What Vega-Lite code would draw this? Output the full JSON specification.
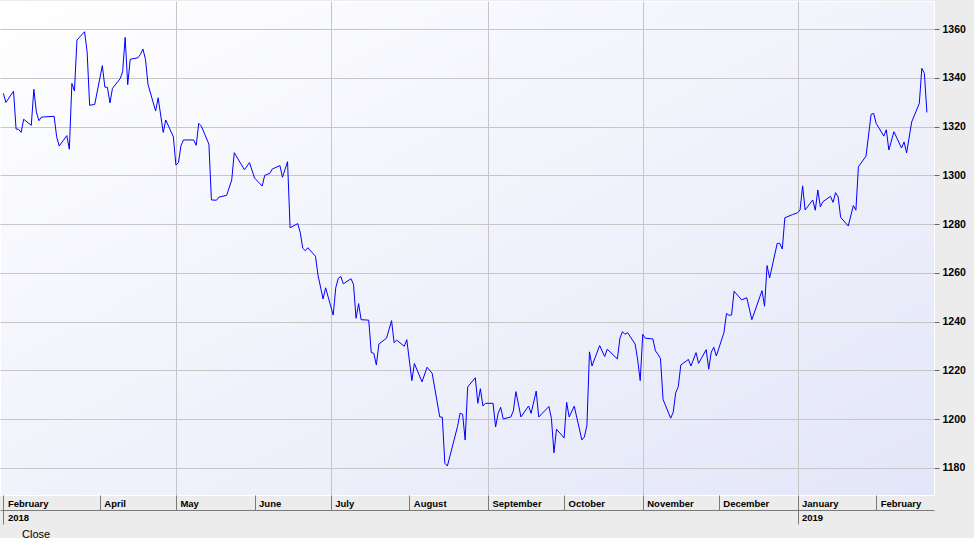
{
  "$schema": "https://vega.github.io/schema/vega-lite/v6.json",
  "width": 934,
  "height": 494,
  "autosize": {"type": "none"},
  "padding": {"left": 0, "top": 1, "right": 40, "bottom": 43},
  "background": "#ECECEC",
  "config": {
    "view": {
      "fill": {"gradient": "linear", "x1": 0, "y1": 0, "x2": 1, "y2": 1, "stops": [{"offset": 0, "color": "#FFFFFF"}, {"offset": 1, "color": "#E3E6F8"}]},
      "stroke": "#FFFFFF",
      "strokeWidth": 1
    },
    "axis": {"labelFont": "Liberation Sans", "labelColor": "#000000", "titleFont": "Liberation Sans"}
  },
  "title": {
    "text": "Close",
    "orient": "bottom",
    "anchor": "start",
    "dx": 22,
    "offset": 4,
    "font": "Liberation Sans",
    "fontSize": 11,
    "fontWeight": "normal",
    "color": "#000000",
    "baseline": "top"
  },
  "data": {
    "values": [
      {"date": "2018-02-22", "close": 1333.6}, {"date": "2018-02-23", "close": 1329.9}, {"date": "2018-02-26", "close": 1334.5}, {"date": "2018-02-27", "close": 1319.0}, {"date": "2018-02-28", "close": 1318.9},
      {"date": "2018-03-01", "close": 1317.6}, {"date": "2018-03-02", "close": 1323.0}, {"date": "2018-03-05", "close": 1320.5}, {"date": "2018-03-06", "close": 1335.3}, {"date": "2018-03-07", "close": 1326.0}, {"date": "2018-03-08", "close": 1322.4}, {"date": "2018-03-09", "close": 1323.9}, {"date": "2018-03-14", "close": 1324.2}, {"date": "2018-03-15", "close": 1315.8}, {"date": "2018-03-16", "close": 1312.0}, {"date": "2018-03-19", "close": 1316.3}, {"date": "2018-03-20", "close": 1310.7}, {"date": "2018-03-21", "close": 1337.7}, {"date": "2018-03-22", "close": 1334.6}, {"date": "2018-03-23", "close": 1355.5}, {"date": "2018-03-26", "close": 1358.9}, {"date": "2018-03-27", "close": 1350.7}, {"date": "2018-03-28", "close": 1328.7}, {"date": "2018-03-30", "close": 1329.1},
      {"date": "2018-04-02", "close": 1345.0}, {"date": "2018-04-03", "close": 1336.2}, {"date": "2018-04-04", "close": 1336.1}, {"date": "2018-04-05", "close": 1329.7}, {"date": "2018-04-06", "close": 1335.7}, {"date": "2018-04-09", "close": 1339.6}, {"date": "2018-04-10", "close": 1342.5}, {"date": "2018-04-11", "close": 1356.6}, {"date": "2018-04-12", "close": 1337.2}, {"date": "2018-04-13", "close": 1347.6}, {"date": "2018-04-16", "close": 1348.2}, {"date": "2018-04-17", "close": 1349.6}, {"date": "2018-04-18", "close": 1351.8}, {"date": "2018-04-19", "close": 1347.6}, {"date": "2018-04-20", "close": 1337.3}, {"date": "2018-04-23", "close": 1326.4}, {"date": "2018-04-24", "close": 1331.8}, {"date": "2018-04-26", "close": 1317.6}, {"date": "2018-04-27", "close": 1322.7}, {"date": "2018-04-30", "close": 1315.8},
      {"date": "2018-05-01", "close": 1304.2}, {"date": "2018-05-02", "close": 1305.2}, {"date": "2018-05-03", "close": 1312.2}, {"date": "2018-05-04", "close": 1314.5}, {"date": "2018-05-08", "close": 1314.5}, {"date": "2018-05-09", "close": 1312.3}, {"date": "2018-05-10", "close": 1321.3}, {"date": "2018-05-11", "close": 1320.2}, {"date": "2018-05-14", "close": 1312.8}, {"date": "2018-05-15", "close": 1289.9}, {"date": "2018-05-17", "close": 1289.8}, {"date": "2018-05-18", "close": 1291.1}, {"date": "2018-05-21", "close": 1291.8}, {"date": "2018-05-23", "close": 1298.1}, {"date": "2018-05-24", "close": 1309.3}, {"date": "2018-05-28", "close": 1302.3}, {"date": "2018-05-30", "close": 1305.2},
      {"date": "2018-06-01", "close": 1298.9}, {"date": "2018-06-04", "close": 1295.6}, {"date": "2018-06-05", "close": 1300.0}, {"date": "2018-06-07", "close": 1300.8}, {"date": "2018-06-08", "close": 1302.6}, {"date": "2018-06-11", "close": 1304.0}, {"date": "2018-06-12", "close": 1299.2}, {"date": "2018-06-14", "close": 1305.6}, {"date": "2018-06-15", "close": 1278.5}, {"date": "2018-06-18", "close": 1280.2}, {"date": "2018-06-19", "close": 1276.6}, {"date": "2018-06-20", "close": 1270.1}, {"date": "2018-06-21", "close": 1269.1}, {"date": "2018-06-22", "close": 1270.3}, {"date": "2018-06-25", "close": 1266.8}, {"date": "2018-06-26", "close": 1259.1}, {"date": "2018-06-28", "close": 1249.3}, {"date": "2018-06-29", "close": 1253.9},
      {"date": "2018-07-02", "close": 1242.7}, {"date": "2018-07-03", "close": 1253.9}, {"date": "2018-07-04", "close": 1257.8}, {"date": "2018-07-05", "close": 1258.5}, {"date": "2018-07-06", "close": 1255.5}, {"date": "2018-07-09", "close": 1257.6}, {"date": "2018-07-10", "close": 1255.3}, {"date": "2018-07-11", "close": 1241.4}, {"date": "2018-07-12", "close": 1247.4}, {"date": "2018-07-13", "close": 1240.8}, {"date": "2018-07-16", "close": 1240.6}, {"date": "2018-07-17", "close": 1227.3}, {"date": "2018-07-18", "close": 1227.0}, {"date": "2018-07-19", "close": 1222.2}, {"date": "2018-07-20", "close": 1230.8}, {"date": "2018-07-23", "close": 1233.2}, {"date": "2018-07-25", "close": 1240.4}, {"date": "2018-07-26", "close": 1231.4}, {"date": "2018-07-27", "close": 1232.4}, {"date": "2018-07-30", "close": 1229.9}, {"date": "2018-07-31", "close": 1232.6},
      {"date": "2018-08-02", "close": 1215.8}, {"date": "2018-08-03", "close": 1222.8}, {"date": "2018-08-06", "close": 1215.3}, {"date": "2018-08-08", "close": 1221.3}, {"date": "2018-08-10", "close": 1218.8}, {"date": "2018-08-13", "close": 1200.9}, {"date": "2018-08-14", "close": 1200.8}, {"date": "2018-08-15", "close": 1181.9}, {"date": "2018-08-16", "close": 1180.8}, {"date": "2018-08-20", "close": 1197.0}, {"date": "2018-08-21", "close": 1202.4}, {"date": "2018-08-22", "close": 1202.0}, {"date": "2018-08-23", "close": 1191.5}, {"date": "2018-08-24", "close": 1213.2}, {"date": "2018-08-27", "close": 1217.0}, {"date": "2018-08-28", "close": 1206.5}, {"date": "2018-08-29", "close": 1212.5}, {"date": "2018-08-30", "close": 1205.4}, {"date": "2018-08-31", "close": 1206.5},
      {"date": "2018-09-03", "close": 1206.5}, {"date": "2018-09-04", "close": 1196.8}, {"date": "2018-09-05", "close": 1202.4}, {"date": "2018-09-06", "close": 1204.9}, {"date": "2018-09-07", "close": 1200.1}, {"date": "2018-09-10", "close": 1200.9}, {"date": "2018-09-11", "close": 1203.4}, {"date": "2018-09-12", "close": 1211.3}, {"date": "2018-09-14", "close": 1200.9}, {"date": "2018-09-17", "close": 1205.4}, {"date": "2018-09-18", "close": 1202.4}, {"date": "2018-09-20", "close": 1211.5}, {"date": "2018-09-21", "close": 1200.9}, {"date": "2018-09-25", "close": 1205.2}, {"date": "2018-09-26", "close": 1200.3}, {"date": "2018-09-27", "close": 1186.2}, {"date": "2018-09-28", "close": 1195.9},
      {"date": "2018-10-01", "close": 1192.3}, {"date": "2018-10-02", "close": 1206.9}, {"date": "2018-10-03", "close": 1200.9}, {"date": "2018-10-05", "close": 1205.3}, {"date": "2018-10-08", "close": 1191.5}, {"date": "2018-10-09", "close": 1192.7}, {"date": "2018-10-10", "close": 1197.5}, {"date": "2018-10-11", "close": 1227.6}, {"date": "2018-10-12", "close": 1221.8}, {"date": "2018-10-15", "close": 1230.2}, {"date": "2018-10-17", "close": 1225.7}, {"date": "2018-10-18", "close": 1228.7}, {"date": "2018-10-22", "close": 1224.7}, {"date": "2018-10-23", "close": 1233.2}, {"date": "2018-10-24", "close": 1235.9}, {"date": "2018-10-25", "close": 1234.8}, {"date": "2018-10-26", "close": 1235.5}, {"date": "2018-10-29", "close": 1230.8}, {"date": "2018-10-30", "close": 1224.3}, {"date": "2018-10-31", "close": 1215.8},
      {"date": "2018-11-01", "close": 1234.8}, {"date": "2018-11-02", "close": 1233.2}, {"date": "2018-11-05", "close": 1232.9}, {"date": "2018-11-06", "close": 1228.0}, {"date": "2018-11-07", "close": 1226.6}, {"date": "2018-11-08", "close": 1224.8}, {"date": "2018-11-09", "close": 1208.1}, {"date": "2018-11-12", "close": 1200.4}, {"date": "2018-11-13", "close": 1202.8}, {"date": "2018-11-14", "close": 1210.9}, {"date": "2018-11-15", "close": 1213.3}, {"date": "2018-11-16", "close": 1222.2}, {"date": "2018-11-19", "close": 1224.5}, {"date": "2018-11-20", "close": 1221.8}, {"date": "2018-11-22", "close": 1227.3}, {"date": "2018-11-23", "close": 1222.9}, {"date": "2018-11-26", "close": 1228.5}, {"date": "2018-11-27", "close": 1220.5}, {"date": "2018-11-28", "close": 1227.5}, {"date": "2018-11-29", "close": 1229.5}, {"date": "2018-11-30", "close": 1225.9},
      {"date": "2018-12-03", "close": 1235.5}, {"date": "2018-12-04", "close": 1243.3}, {"date": "2018-12-05", "close": 1242.6}, {"date": "2018-12-06", "close": 1242.7}, {"date": "2018-12-07", "close": 1252.5}, {"date": "2018-12-10", "close": 1248.9}, {"date": "2018-12-12", "close": 1249.8}, {"date": "2018-12-14", "close": 1240.8}, {"date": "2018-12-18", "close": 1252.7}, {"date": "2018-12-19", "close": 1246.3}, {"date": "2018-12-20", "close": 1263.0}, {"date": "2018-12-21", "close": 1257.9}, {"date": "2018-12-24", "close": 1272.1}, {"date": "2018-12-25", "close": 1272.1}, {"date": "2018-12-26", "close": 1269.8}, {"date": "2018-12-27", "close": 1282.6}, {"date": "2018-12-30", "close": 1283.9},
      {"date": "2019-01-01", "close": 1284.6}, {"date": "2019-01-02", "close": 1285.8}, {"date": "2019-01-03", "close": 1295.7}, {"date": "2019-01-04", "close": 1285.8}, {"date": "2019-01-07", "close": 1289.9}, {"date": "2019-01-08", "close": 1285.7}, {"date": "2019-01-09", "close": 1294.0}, {"date": "2019-01-10", "close": 1287.1}, {"date": "2019-01-11", "close": 1289.2}, {"date": "2019-01-14", "close": 1291.4}, {"date": "2019-01-15", "close": 1288.9}, {"date": "2019-01-16", "close": 1292.9}, {"date": "2019-01-17", "close": 1291.2}, {"date": "2019-01-18", "close": 1282.8}, {"date": "2019-01-21", "close": 1279.2}, {"date": "2019-01-23", "close": 1287.6}, {"date": "2019-01-24", "close": 1285.7}, {"date": "2019-01-25", "close": 1303.5}, {"date": "2019-01-28", "close": 1307.9}, {"date": "2019-01-30", "close": 1325.0}, {"date": "2019-01-31", "close": 1325.4},
      {"date": "2019-02-01", "close": 1321.3}, {"date": "2019-02-04", "close": 1316.1}, {"date": "2019-02-05", "close": 1318.7}, {"date": "2019-02-06", "close": 1310.4}, {"date": "2019-02-08", "close": 1317.9}, {"date": "2019-02-11", "close": 1311.2}, {"date": "2019-02-12", "close": 1313.7}, {"date": "2019-02-13", "close": 1309.2}, {"date": "2019-02-15", "close": 1321.9}, {"date": "2019-02-18", "close": 1329.5}, {"date": "2019-02-19", "close": 1343.9}, {"date": "2019-02-20", "close": 1341.8}, {"date": "2019-02-21", "close": 1325.8}
    ]
  },
  "encoding": {
    "y": {
      "field": "close",
      "type": "quantitative",
      "scale": {"domain": [1168.9, 1371.5], "nice": false, "zero": false},
      "axis": {
        "orient": "right",
        "title": null,
        "values": [1180, 1200, 1220, 1240, 1260, 1280, 1300, 1320, 1340, 1360],
        "format": "d",
        "domain": false,
        "grid": true,
        "gridColor": "#C6C6C6",
        "gridWidth": 1,
        "tickSize": 5,
        "tickColor": "#666666",
        "labelPadding": 3,
        "labelFontSize": 10.5,
        "labelFontWeight": "bold",
        "labelBaseline": "middle"
      }
    }
  },
  "layer": [
    {
      "mark": {"type": "line", "color": "#0000FF", "strokeWidth": 1},
      "encoding": {
        "x": {
          "field": "date",
          "type": "temporal",
          "scale": {"type": "utc", "domain": [{"year": 2018, "month": 2, "date": 20, "hours": 16, "utc": true}, {"year": 2019, "month": 2, "date": 23, "hours": 19, "utc": true}], "nice": false},
          "axis": {
            "orient": "bottom",
            "title": null,
            "values": [
              {"year": 2018, "month": 2, "date": 22, "utc": true},
              {"year": 2018, "month": 4, "date": 1, "utc": true},
              {"year": 2018, "month": 5, "date": 1, "utc": true},
              {"year": 2018, "month": 6, "date": 1, "utc": true},
              {"year": 2018, "month": 7, "date": 1, "utc": true},
              {"year": 2018, "month": 8, "date": 1, "utc": true},
              {"year": 2018, "month": 9, "date": 1, "utc": true},
              {"year": 2018, "month": 10, "date": 1, "utc": true},
              {"year": 2018, "month": 11, "date": 1, "utc": true},
              {"year": 2018, "month": 12, "date": 1, "utc": true},
              {"year": 2019, "month": 1, "date": 1, "utc": true},
              {"year": 2019, "month": 2, "date": 1, "utc": true}
            ],
            "labelExpr": "utcFormat(datum.value, '%B')",
            "domain": false,
            "grid": true,
            "gridColor": "#C6C6C6",
            "gridOpacity": {"condition": {"test": "utcmonth(datum.value) % 2 == 0", "value": 1}, "value": 0},
            "tickSize": 15,
            "tickColor": "#7A7A7A",
            "labelAlign": "left",
            "labelBaseline": "top",
            "labelOffset": 4,
            "labelPadding": -12,
            "labelFontSize": 9.5,
            "labelFontWeight": "bold",
            "labelOverlap": false,
            "labelFlush": false
          }
        }
      }
    },
    {
      "mark": {"type": "line", "opacity": 0},
      "encoding": {
        "x": {
          "field": "date",
          "type": "temporal",
          "scale": {"type": "utc", "domain": [{"year": 2018, "month": 2, "date": 20, "hours": 16, "utc": true}, {"year": 2019, "month": 2, "date": 23, "hours": 19, "utc": true}], "nice": false},
          "axis": {
            "orient": "bottom",
            "offset": 15,
            "title": null,
            "values": [
              {"year": 2018, "month": 2, "date": 22, "utc": true},
              {"year": 2019, "month": 1, "date": 1, "utc": true}
            ],
            "labelExpr": "utcFormat(datum.value, '%Y')",
            "domain": true,
            "domainColor": "#7A7A7A",
            "grid": false,
            "tickSize": 14,
            "tickColor": "#7A7A7A",
            "labelAlign": "left",
            "labelBaseline": "top",
            "labelOffset": 4,
            "labelPadding": -12,
            "labelFontSize": 9.5,
            "labelFontWeight": "bold",
            "labelOverlap": false,
            "labelFlush": false
          }
        }
      }
    }
  ],
  "resolve": {"axis": {"x": "independent"}}
}
